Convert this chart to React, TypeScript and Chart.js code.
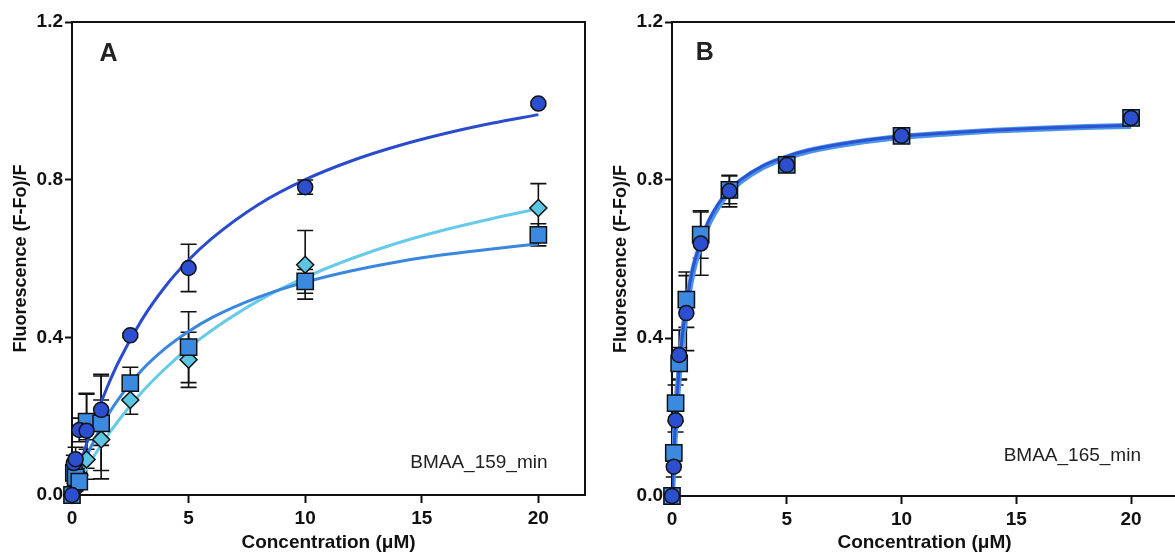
import React, { useEffect, useRef } from "react";
import { Chart, registerables } from "chart.js";

Chart.register(...registerables);

const FONT = "'Liberation Sans', Arial, Helvetica, sans-serif";

// ---------- shared axis data ----------
const concentrations = [0, 0.078, 0.156, 0.3125, 0.625, 1.25, 2.5, 5, 10, 20];
const xTickValues = [0, 5, 10, 15, 20];
const yTickValues = [0, 0.4, 0.8, 1.2];
const xTitle = "Concentration (\u03bcM)";
const yTitle = "Fluorescence (F-Fo)/F";

// ---------- panel A (BMAA_159_min) ----------
const aCircleValues = [0, 0.081, 0.091, 0.165, 0.163, 0.216, 0.405, 0.576, 0.781, 0.993];
const aCircleErrors = [0, 0.02, 0.03, 0.03, 0.095, 0.09, 0.005, 0.06, 0.018, 0.005];
const aSquareValues = [0, 0.056, 0.045, 0.034, 0.186, 0.182, 0.284, 0.375, 0.542, 0.66];
const aSquareErrors = [0, 0.02, 0.03, 0.04, 0.07, 0.12, 0.04, 0.09, 0.03, 0.028];
const aDiamondValues = [0, 0.01, 0.03, 0.05, 0.09, 0.141, 0.241, 0.343, 0.584, 0.728];
const aDiamondErrors = [0, 0.01, 0.02, 0.03, 0.05, 0.1, 0.036, 0.07, 0.087, 0.062];

const aCurveX = [0, 0.25, 0.5, 1, 1.5, 2, 3, 4, 5, 6, 8, 10, 12, 14, 16, 18, 20];
const aCircleFit = [0, 0.056, 0.107, 0.196, 0.272, 0.338, 0.445, 0.529, 0.596, 0.651, 0.737, 0.8, 0.848, 0.886, 0.917, 0.943, 0.965];
const aSquareFit = [0, 0.042, 0.08, 0.145, 0.199, 0.244, 0.317, 0.372, 0.415, 0.45, 0.502, 0.54, 0.569, 0.592, 0.61, 0.624, 0.637];
const aDiamondFit = [0, 0.028, 0.055, 0.104, 0.149, 0.189, 0.261, 0.321, 0.373, 0.418, 0.493, 0.552, 0.6, 0.64, 0.673, 0.701, 0.726];

// ---------- panel B (BMAA_165_min) ----------
const bCircleValues = [0, 0.074, 0.192, 0.357, 0.463, 0.639, 0.772, 0.838, 0.912, 0.957];
const bCircleErrors = [0, 0.026, 0.03, 0.063, 0.095, 0.08, 0.04, 0.01, 0.01, 0.008];
const bSquareValues = [0, 0.109, 0.235, 0.336, 0.497, 0.662, 0.775, 0.838, 0.912, 0.957];
const bSquareErrors = [0, 0.02, 0.046, 0.04, 0.07, 0.06, 0.035, 0.012, 0.01, 0.008];

const bCurveX = [0, 0.05, 0.1, 0.2, 0.3, 0.4, 0.6, 0.8, 1, 1.5, 2, 2.5, 3, 4, 5, 6, 8, 10, 12, 14, 16, 18, 20];
const bCircleFit = [0, 0.072, 0.134, 0.236, 0.315, 0.379, 0.476, 0.545, 0.597, 0.684, 0.738, 0.775, 0.801, 0.837, 0.86, 0.876, 0.897, 0.911, 0.919, 0.926, 0.931, 0.935, 0.938];
const bSquareFit = [0, 0.066, 0.126, 0.226, 0.304, 0.368, 0.466, 0.536, 0.589, 0.677, 0.732, 0.77, 0.797, 0.834, 0.857, 0.874, 0.895, 0.909, 0.918, 0.925, 0.93, 0.934, 0.937];

// ---------- colours ----------
const CIRCLE_FILL = "#2b4fcf";
const SQUARE_FILL = "#3b8ae0";
const DIAMOND_FILL = "#5cc6e2";
const CIRCLE_LINE = "#2a4ccc";
const SQUARE_LINE = "#3a87dd";
const DIAMOND_LINE = "#66cae8";
const INK = "#111111";

const errorBarPlugin = {
  id: "errorBars",
  beforeDatasetsDraw(chart: any) {
    const { ctx, scales } = chart;
    const xs = scales.x;
    const ys = scales.y;
    ctx.save();
    ctx.strokeStyle = INK;
    ctx.lineWidth = 1.6;
    const list = chart.data.datasets.slice().reverse();
    list.forEach((ds: any) => {
      if (!ds.errors) return;
      ds.data.forEach((p: any, i: number) => {
        const e = ds.errors[i];
        if (!e) return;
        const px = xs.getPixelForValue(p.x);
        const top = ys.getPixelForValue(p.y + e);
        const bot = ys.getPixelForValue(Math.max(0, p.y - e));
        ctx.beginPath();
        ctx.moveTo(px, top);
        ctx.lineTo(px, bot);
        ctx.moveTo(px - 8, top);
        ctx.lineTo(px + 8, top);
        ctx.moveTo(px - 8, bot);
        ctx.lineTo(px + 8, bot);
        ctx.stroke();
      });
    });
    ctx.restore();
  },
};

const framePlugin = {
  id: "frameAndText",
  afterDraw(chart: any) {
    const { ctx, chartArea, scales } = chart;
    const o = chart.options.plugins.frameAndText;
    ctx.save();
    ctx.strokeStyle = INK;
    ctx.lineWidth = 2;
    ctx.beginPath();
    ctx.moveTo(chartArea.left, chartArea.top);
    ctx.lineTo(chartArea.right, chartArea.top);
    ctx.lineTo(chartArea.right, chartArea.bottom);
    ctx.stroke();
    ctx.fillStyle = "#222";
    ctx.textAlign = "center";
    ctx.textBaseline = "middle";
    ctx.font = `bold 25px ${FONT}`;
    ctx.fillText(o.letter, scales.x.getPixelForValue(o.letterX), scales.y.getPixelForValue(o.letterY));
    ctx.font = `19px ${FONT}`;
    ctx.fillText(o.label, scales.x.getPixelForValue(o.labelX), scales.y.getPixelForValue(o.labelY));
    ctx.restore();
  },
};

type Series = { values: number[]; errors: number[]; style: string; radius: number; color: string };
type Curve = { xs: number[]; ys: number[]; color: string; width: number };
type Panel = {
  series: Series[];
  curves: Curve[];
  letter: string;
  label: string;
  letterX: number;
  letterY: number;
  labelX: number;
  labelY: number;
  padRight: number;
  xHeight: number;
};

const panelA: Panel = {
  series: [
    { values: aCircleValues, errors: aCircleErrors, style: "circle", radius: 7.5, color: CIRCLE_FILL },
    { values: aSquareValues, errors: aSquareErrors, style: "rect", radius: 11.5, color: SQUARE_FILL },
    { values: aDiamondValues, errors: aDiamondErrors, style: "rectRot", radius: 8.5, color: DIAMOND_FILL },
  ],
  curves: [
    { xs: aCurveX, ys: aCircleFit, color: CIRCLE_LINE, width: 3 },
    { xs: aCurveX, ys: aSquareFit, color: SQUARE_LINE, width: 3 },
    { xs: aCurveX, ys: aDiamondFit, color: DIAMOND_LINE, width: 3 },
  ],
  letter: "A",
  label: "BMAA_159_min",
  letterX: 1.57,
  letterY: 1.118,
  labelX: 17.45,
  labelY: 0.083,
  padRight: 15,
  xHeight: 59,
};

const panelB: Panel = {
  series: [
    { values: bCircleValues, errors: bCircleErrors, style: "circle", radius: 7.5, color: CIRCLE_FILL },
    { values: bSquareValues, errors: bSquareErrors, style: "rect", radius: 11.5, color: SQUARE_FILL },
  ],
  curves: [
    { xs: bCurveX, ys: bCircleFit, color: "#2a54d4", width: 3 },
    { xs: bCurveX, ys: bSquareFit, color: "#4c95e6", width: 6 },
  ],
  letter: "B",
  label: "BMAA_165_min",
  letterX: 1.43,
  letterY: 1.12,
  labelX: 17.44,
  labelY: 0.102,
  padRight: 5,
  xHeight: 58,
};

function buildConfig(p: Panel): any {
  const pointSets = p.series.map((s) => ({
    type: "scatter",
    data: concentrations.map((x, i) => ({ x, y: s.values[i] })),
    errors: s.errors,
    pointStyle: s.style,
    pointRadius: s.radius,
    pointHoverRadius: s.radius,
    backgroundColor: s.color,
    borderColor: INK,
    borderWidth: 1.5,
    clip: false,
  }));
  const curveSets = p.curves.map((c) => ({
    type: "line",
    data: c.xs.map((x, i) => ({ x, y: c.ys[i] })),
    borderColor: c.color,
    borderWidth: c.width,
    pointRadius: 0,
    fill: false,
    cubicInterpolationMode: "monotone",
  }));
  const tickFont = { family: FONT, size: 19, weight: "bold" };
  return {
    type: "scatter",
    data: { datasets: [...pointSets, ...curveSets] },
    plugins: [errorBarPlugin, framePlugin],
    options: {
      responsive: false,
      animation: false,
      events: [],
      layout: { padding: { left: 0, right: p.padRight, top: 22, bottom: 0 } },
      plugins: {
        legend: { display: false },
        tooltip: { enabled: false },
        frameAndText: {
          letter: p.letter,
          label: p.label,
          letterX: p.letterX,
          letterY: p.letterY,
          labelX: p.labelX,
          labelY: p.labelY,
        },
      },
      scales: {
        x: {
          type: "linear",
          min: 0,
          max: 22,
          afterBuildTicks: (s: any) => {
            s.ticks = xTickValues.map((v) => ({ value: v }));
          },
          afterFit: (s: any) => {
            s.height = p.xHeight;
          },
          grid: { display: true, drawOnChartArea: false, drawTicks: true, tickLength: 8, tickWidth: 2, tickColor: INK },
          border: { display: true, color: INK, width: 2 },
          ticks: { color: INK, font: tickFont, padding: 4, maxRotation: 0, autoSkip: false, callback: (v: any) => String(v) },
          title: { display: true, text: xTitle, color: INK, font: { family: FONT, size: 19, weight: "bold" }, padding: { top: 0, bottom: 0 } },
        },
        y: {
          type: "linear",
          min: 0,
          max: 1.2,
          afterBuildTicks: (s: any) => {
            s.ticks = yTickValues.map((v) => ({ value: v }));
          },
          afterFit: (s: any) => {
            s.width = 72;
          },
          grid: { display: true, drawOnChartArea: false, drawTicks: true, tickLength: 7, tickWidth: 2, tickColor: INK },
          border: { display: true, color: INK, width: 2 },
          ticks: { color: INK, font: tickFont, padding: 2, autoSkip: false, callback: (v: any) => Number(v).toFixed(1) },
          title: { display: true, text: yTitle, color: INK, font: { family: FONT, size: 18, weight: "bold" }, padding: { top: 10, bottom: 0 } },
        },
      },
    },
  };
}

export default function App() {
  const refA = useRef<HTMLCanvasElement>(null);
  const refB = useRef<HTMLCanvasElement>(null);
  useEffect(() => {
    const a = new Chart(refA.current as HTMLCanvasElement, buildConfig(panelA));
    const b = new Chart(refB.current as HTMLCanvasElement, buildConfig(panelB));
    return () => {
      a.destroy();
      b.destroy();
    };
  }, []);
  return (
    <div style={{ position: "absolute", left: 0, top: 0, width: 1175, height: 554, overflow: "hidden", background: "#fff" }}>
      <canvas ref={refA} width={600} height={554} style={{ position: "absolute", left: 0, top: 0 }} />
      <canvas ref={refB} width={590} height={554} style={{ position: "absolute", left: 600, top: 0 }} />
    </div>
  );
}
